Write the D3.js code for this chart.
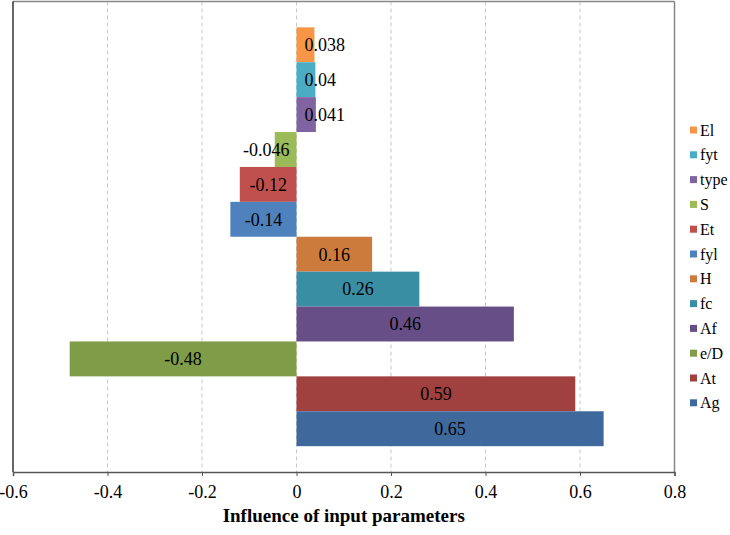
<!DOCTYPE html>
<html>
<head>
<meta charset="utf-8">
<script src="https://cdn.jsdelivr.net/npm/d3@7"></script>
<style>
  body { margin: 0; background: #fff; }
</style>
</head>
<body>
<div id="chart"></div>
<script>
// Data, top to bottom as drawn
var names = ["El", "fyt", "type", "S", "Et", "fyl", "H", "fc", "Af", "e/D", "At", "Ag"];
var values = [0.038, 0.04, 0.041, -0.046, -0.12, -0.14, 0.16, 0.26, 0.46, -0.48, 0.59, 0.65];
var colors = ["#F79646", "#4BACC6", "#8064A2", "#9BBB59", "#C0504D", "#4F81BD",
              "#CC7B3C", "#3A8EA4", "#674E86", "#7F9C48", "#A0403F", "#3F699D"];
var xTicks = [-0.6, -0.4, -0.2, 0, 0.2, 0.4, 0.6, 0.8];

var data = names.map(function (n, i) { return { name: n, value: values[i], color: colors[i] }; });

var serif = "'Liberation Serif', 'DejaVu Serif', serif";

// Plot frame
var plotLeft = 13, plotRight = 674.5, plotTop = 1.5, plotBottom = 472;

var svg = d3.select("#chart").append("svg")
    .attr("width", 730)
    .attr("height", 535)
    .style("font-family", serif);

var x = d3.scaleLinear().domain([-0.6, 0.8]).range([plotLeft, plotRight]);
var y = d3.scaleBand().domain(names).range([plotTop, plotBottom])
    .paddingInner(0).paddingOuter(0.74);

// Dashed gridlines
svg.append("g")
    .selectAll("line")
    .data(xTicks.slice(1, -1))
    .enter().append("line")
    .attr("x1", function (d) { return x(d); })
    .attr("x2", function (d) { return x(d); })
    .attr("y1", plotTop)
    .attr("y2", plotBottom)
    .attr("stroke", "#c8c8c8")
    .attr("stroke-width", 1)
    .attr("stroke-dasharray", "4,3");

// Bars
svg.append("g")
    .selectAll("rect")
    .data(data)
    .enter().append("rect")
    .attr("x", function (d) { return x(Math.min(0, d.value)); })
    .attr("y", function (d) { return y(d.name); })
    .attr("width", function (d) { return Math.abs(x(d.value) - x(0)); })
    .attr("height", y.bandwidth())
    .attr("fill", function (d) { return d.color; });

// Value labels, centred, pushed out when the bar is too narrow
svg.append("g")
    .selectAll("text")
    .data(data)
    .enter().append("text")
    .attr("y", function (d) { return y(d.name) + y.bandwidth() / 2; })
    .attr("dy", "0.35em")
    .style("font-family", serif)
    .style("font-size", "18px")
    .attr("fill", "#000")
    .text(function (d) { return String(d.value); })
    .each(function (d) {
        var t = d3.select(this);
        var w = this.getComputedTextLength();
        var barW = Math.abs(x(d.value) - x(0));
        if (barW > w + 4) {
            t.attr("x", (x(d.value) + x(0)) / 2).attr("text-anchor", "middle");
        } else if (d.value > 0) {
            t.attr("x", x(0) + 8).attr("text-anchor", "start");
        } else {
            t.attr("x", x(0) - 7).attr("text-anchor", "end");
        }
    });

// Frame: grey top and right, dark left
svg.append("line").attr("x1", plotLeft).attr("x2", plotRight).attr("y1", plotTop).attr("y2", plotTop)
    .attr("stroke", "#868686").attr("stroke-width", 1.5);
svg.append("line").attr("x1", plotRight).attr("x2", plotRight).attr("y1", plotTop).attr("y2", plotBottom)
    .attr("stroke", "#868686").attr("stroke-width", 1.5);
svg.append("line").attr("x1", plotLeft).attr("x2", plotLeft).attr("y1", plotTop).attr("y2", plotBottom)
    .attr("stroke", "#000").attr("stroke-width", 1.2);

// X axis
var xAxis = d3.axisBottom(x)
    .tickValues(xTicks)
    .tickSize(4)
    .tickFormat(function (d) { return String(+d.toFixed(1)); });

var gx = svg.append("g")
    .attr("transform", "translate(0," + plotBottom + ")")
    .call(xAxis);
gx.attr("font-family", null).attr("font-size", null);
gx.select(".domain").attr("stroke", "#555").attr("stroke-width", 1.5);
gx.selectAll(".tick line").attr("stroke", "#555");
gx.selectAll(".tick text")
    .style("font-family", serif)
    .style("font-size", "18px")
    .attr("fill", "#000")
    .attr("y", 13)
    .attr("dy", "0.71em");

// X axis title
svg.append("text")
    .attr("x", (plotLeft + plotRight) / 2)
    .attr("y", 522)
    .attr("text-anchor", "middle")
    .style("font-family", serif)
    .style("font-size", "19px")
    .style("font-weight", "bold")
    .text("Influence of input parameters");

// Legend
var legend = svg.append("g")
    .selectAll("g")
    .data(data)
    .enter().append("g")
    .attr("transform", function (d, i) { return "translate(690," + (130 + i * 24.8) + ")"; });

legend.append("rect")
    .attr("x", 0)
    .attr("y", -3.5)
    .attr("width", 7)
    .attr("height", 7)
    .attr("fill", function (d) { return d.color; });

legend.append("text")
    .attr("x", 10)
    .attr("dy", "0.35em")
    .style("font-family", serif)
    .style("font-size", "16px")
    .text(function (d) { return d.name; });
</script>
</body>
</html>
